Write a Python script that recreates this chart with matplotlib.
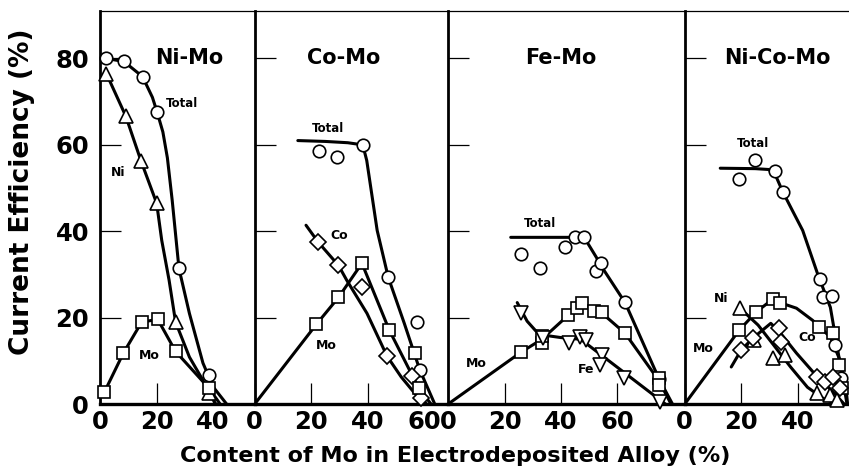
import matplotlib.pyplot as plt

# x ranges of the four panels
panel_names = ["Ni-Mo", "Co-Mo", "Fe-Mo", "Ni-Co-Mo"]
panel_xmax = [54.7, 68.5, 83.8, 58.2]
panel_xticks = [[0, 20, 40], [0, 20, 40, 60], [0, 20, 40, 60], [0, 20, 40]]

# Ni-Mo
nimo_total_x = [2.2, 8.4, 15, 20.2, 27.9, 38.5]
nimo_total_y = [80, 79.3, 75.8, 67.5, 31.4, 6.7]
nimo_total_cx = [2.2, 8.4, 15, 18.5, 20.2, 22.2, 23.8, 25.5, 27.9, 31.6, 36.4, 40, 44.8]
nimo_total_cy = [80, 79.3, 75.8, 71, 67.5, 63, 57, 47.2, 31.4, 21, 9.5, 4, 0]
nimo_ni_x = [2.2, 9.1, 14.5, 20, 26.7, 38.5]
nimo_ni_y = [76.5, 66.6, 56.2, 46.5, 19, 2.5]
nimo_ni_cx = [2.2, 9.1, 14.5, 20, 21.8, 24.4, 26.7, 31.6, 36.4, 38.5, 41]
nimo_ni_cy = [76.5, 66.6, 56.2, 46.5, 37.9, 28.7, 19, 10.9, 5.5, 2.5, 0]
nimo_mo_x = [1.5, 8.2, 14.7, 20.4, 26.7, 38.5]
nimo_mo_y = [2.8, 11.8, 19, 19.6, 12.2, 3.7]
nimo_mo_cx = [1.5, 8.2, 14.7, 20.4, 26.7, 38.5, 42.5]
nimo_mo_cy = [2.8, 11.8, 19, 19.6, 12.2, 3.7, 0]

# Co-Mo
como_total_x = [22.8, 29.3, 38.3, 47.3, 57.4, 58.5]
como_total_y = [58.5, 57.1, 60, 29.4, 19, 7.9]
como_total_cx = [15.3, 25, 33, 38.3, 39.7, 43.4, 47.3, 53, 58.5, 63.8]
como_total_cy = [61, 60.8, 60.5, 60, 56.4, 40.2, 29.4, 18.7, 7.9, 0]
como_co_x = [22.5, 29.7, 38, 46.9, 55.6, 58.8]
como_co_y = [37.5, 32.1, 27, 11.1, 6.5, 1.4]
como_co_cx = [18.2, 22.5, 29.7, 32.6, 39.8, 46.9, 51.9, 56.7, 61]
como_co_cy = [41.4, 37.5, 32.1, 28.7, 21, 11.1, 6.3, 2.5, 0]
como_mo_x = [21.9, 29.7, 38, 47.7, 56.7, 58.1]
como_mo_y = [18.5, 24.7, 32.6, 17.1, 11.8, 3.7]
como_mo_cx = [0, 21.9, 29.7, 38, 47.7, 58.1, 62.5]
como_mo_cy = [0, 18.5, 24.7, 32.6, 17.1, 3.7, 0]

# Fe-Mo
femo_total_x = [25.7, 32.7, 41.5, 45, 48.2, 52.5, 54.2, 62.7, 74.6]
femo_total_y = [34.7, 31.4, 36.3, 38.6, 38.6, 30.8, 32.6, 23.6, 5.8]
femo_total_cx = [22.2, 35, 45, 48.2, 52.5, 54.2, 62.7, 74.6, 79.5]
femo_total_cy = [38.6, 38.6, 38.6, 38.6, 34, 32, 23.5, 6, 0]
femo_mo_x = [25.8, 33.2, 33.1, 42.6, 45.8, 47.5, 51.7, 54.6, 62.7, 74.6, 74.6]
femo_mo_y = [12, 14.1, 15.7, 20.6, 22.2, 23.3, 21.6, 21.3, 16.4, 6, 4.4]
femo_mo_cx = [0, 25.8, 33.2, 42.6, 47.5, 54.6, 62.7, 74.6, 79]
femo_mo_cy = [0, 12, 15, 20.6, 23.3, 21, 16.4, 5.5, 0]
femo_fe_x = [25.8, 33.5, 42.9, 46.6, 48.7, 54.6, 53.9, 62.3, 75]
femo_fe_y = [21.2, 15.2, 14.1, 15.5, 14.8, 11.3, 9, 6, 0.5]
femo_fe_cx = [24.5, 28, 31, 33.5, 40, 47, 77]
femo_fe_cy = [23.5, 19.2, 17, 16, 15.4, 15, 0]

# Ni-Co-Mo
nicomo_total_x = [19.3, 25, 32, 34.7, 48, 49.1, 52.2, 53.3, 55.2]
nicomo_total_y = [52, 56.6, 53.9, 49.2, 28.9, 24.7, 25, 13.6, 6]
nicomo_total_cx = [12.6, 25, 29.8, 32.5, 34.7, 38, 41.8, 47, 51.6, 55, 57.5]
nicomo_total_cy = [54.6, 54.5, 54.3, 52.5, 49.2, 45, 40.2, 30.3, 22.4, 9.5, 0]
nicomo_mo_x = [19.3, 25.3, 31.2, 33.7, 47.4, 52.6, 54.7, 55.8]
nicomo_mo_y = [17.1, 21.3, 24.3, 23.3, 17.8, 16.4, 9, 3.7]
nicomo_mo_cx = [0, 19.3, 25.3, 31.2, 33.7, 39.6, 45.3, 51.6, 55, 57.1, 57.7]
nicomo_mo_cy = [0, 17.1, 21.3, 24.3, 23.5, 22.2, 19.4, 15.5, 10.2, 4, 0]
nicomo_ni_x = [19.6, 24.6, 31.2, 35.4, 47, 51.6, 54]
nicomo_ni_y = [22.2, 14.8, 10.6, 11.3, 2.5, 2.1, 0.9]
nicomo_ni_cx = [19.6, 26, 31.6, 37.5, 43.5, 49.1, 54]
nicomo_ni_cy = [22.2, 18.3, 13.6, 8.6, 3.9, 1.3, 0]
nicomo_co_x = [20, 24.2, 33.3, 34, 47, 49.8, 52.6, 55]
nicomo_co_y = [12.5, 15.3, 17.6, 14.3, 6.3, 5.1, 6.3, 3.7]
nicomo_co_cx = [16.5, 20, 24.2, 30.5, 33.5, 39.6, 47, 52.6, 56.5]
nicomo_co_cy = [8.6, 12.5, 15.3, 18.7, 16.8, 11.8, 6.3, 2.8, 0]

plt.rcParams['font.family'] = ['DejaVu Sans']
plt.rcParams['font.weight'] = 'bold'

fig, axes = plt.subplots(1, 4, figsize=(8.49, 4.76), dpi=100, sharey=True,
                         gridspec_kw=dict(width_ratios=panel_xmax, wspace=0))
fig.subplots_adjust(left=0.118, right=1.0, bottom=0.151, top=0.977)

MK = dict(mfc='white', mec='black', mew=1.2, ls='none', clip_on=False, zorder=4)


def curve(ax, x, y):
    ax.plot(x, y, color='black', lw=2.2, solid_capstyle='round',
            solid_joinstyle='round', zorder=3)


def points(ax, x, y, marker, ms):
    ax.plot(x, y, marker=marker, ms=ms, **MK)


ax = axes[0]
curve(ax, nimo_total_cx, nimo_total_cy)
curve(ax, nimo_ni_cx, nimo_ni_cy)
curve(ax, nimo_mo_cx, nimo_mo_cy)
points(ax, nimo_total_x, nimo_total_y, 'o', 9)
points(ax, nimo_ni_x, nimo_ni_y, '^', 10)
points(ax, nimo_mo_x, nimo_mo_y, 's', 9)
ax.text(31.6, 80, "Ni-Mo", ha='center', va='center', fontsize=15)
ax.text(28.9, 69.6, "Total", ha='center', va='center', fontsize=8.5)
ax.text(6.2, 53.6, "Ni", ha='center', va='center', fontsize=9)
ax.text(17.5, 11.3, "Mo", ha='center', va='center', fontsize=9)

ax = axes[1]
curve(ax, como_total_cx, como_total_cy)
curve(ax, como_co_cx, como_co_cy)
curve(ax, como_mo_cx, como_mo_cy)
points(ax, como_total_x, como_total_y, 'o', 9)
points(ax, como_co_x, como_co_y, 'D', 8)
points(ax, como_mo_x, como_mo_y, 's', 9)
ax.text(31.5, 80, "Co-Mo", ha='center', va='center', fontsize=15)
ax.text(26, 63.8, "Total", ha='center', va='center', fontsize=8.5)
ax.text(30, 39, "Co", ha='center', va='center', fontsize=9)
ax.text(25.4, 13.6, "Mo", ha='center', va='center', fontsize=9)

ax = axes[2]
curve(ax, femo_total_cx, femo_total_cy)
curve(ax, femo_mo_cx, femo_mo_cy)
curve(ax, femo_fe_cx, femo_fe_cy)
points(ax, femo_total_x, femo_total_y, 'o', 9)
points(ax, femo_mo_x, femo_mo_y, 's', 9)
points(ax, femo_fe_x, femo_fe_y, 'v', 10)
ax.text(39.8, 80, "Fe-Mo", ha='center', va='center', fontsize=15)
ax.text(32.4, 41.8, "Total", ha='center', va='center', fontsize=8.5)
ax.text(9.9, 9.5, "Mo", ha='center', va='center', fontsize=9)
ax.text(49, 8.1, "Fe", ha='center', va='center', fontsize=9)

ax = axes[3]
curve(ax, nicomo_total_cx, nicomo_total_cy)
curve(ax, nicomo_mo_cx, nicomo_mo_cy)
curve(ax, nicomo_ni_cx, nicomo_ni_cy)
curve(ax, nicomo_co_cx, nicomo_co_cy)
points(ax, nicomo_total_x, nicomo_total_y, 'o', 9)
points(ax, nicomo_mo_x, nicomo_mo_y, 's', 9)
points(ax, nicomo_ni_x, nicomo_ni_y, '^', 10)
points(ax, nicomo_co_x, nicomo_co_y, 'D', 8)
ax.text(33, 80, "Ni-Co-Mo", ha='center', va='center', fontsize=15)
ax.text(24.2, 60.3, "Total", ha='center', va='center', fontsize=8.5)
ax.text(13, 24.5, "Ni", ha='center', va='center', fontsize=9)
ax.text(6.7, 12.9, "Mo", ha='center', va='center', fontsize=9)
ax.text(43.5, 15.5, "Co", ha='center', va='center', fontsize=9)

for ax, xmax, xt in zip(axes, panel_xmax, panel_xticks):
    ax.set_xlim(0, xmax)
    ax.set_ylim(0, 91)
    ax.set_xticks(xt)
    ax.set_yticks([0, 20, 40, 60, 80])
    ax.tick_params(direction='in', length=15, width=0.9, labelsize=17.5, pad=4)
    ax.tick_params(axis='y', pad=8)
    ax.spines['right'].set_visible(False)
    ax.spines['top'].set_linewidth(0.9)
    ax.spines['left'].set_linewidth(2.0)
    ax.spines['bottom'].set_linewidth(2.4)
    for lab in ax.get_xticklabels() + ax.get_yticklabels():
        lab.set_fontweight('bold')

axes[0].set_ylabel("Current Efficiency (%)", fontsize=19, fontweight='bold')
axes[0].yaxis.set_label_coords(-0.42, 0.54)
fig.text(0.536, 0.043, "Content of Mo in Electrodeposited Alloy (%)",
         ha='center', va='center', fontsize=16, fontweight='bold')

fig.savefig("out.png", dpi=100)
